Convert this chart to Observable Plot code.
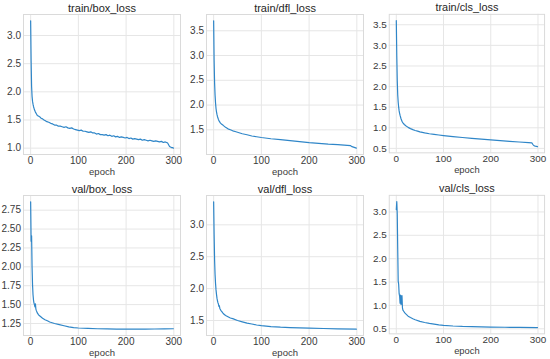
<!DOCTYPE html>
<html>
<head>
<meta charset="utf-8">
<script src="https://cdn.jsdelivr.net/npm/d3@7"></script>
<script src="https://cdn.jsdelivr.net/npm/@observablehq/plot@0.6"></script>
<style>
  html, body { margin: 0; padding: 0; background: #ffffff; }
  #chart { position: relative; width: 550px; height: 359px; overflow: hidden; background: #ffffff; }
  #chart > .panel { position: absolute; }
  #chart svg { overflow: visible; }
</style>
</head>
<body>
<div id="chart"></div>
<script>
// ---------- data ----------
const titles = ["train/box_loss", "train/dfl_loss", "train/cls_loss", "val/box_loss", "val/dfl_loss", "val/cls_loss"];
const xTicks = [0, 100, 200, 300];
const xTickLabels = ["0", "100", "200", "300"];
const xLabel = "epoch";

const trainBoxEpoch = [0,1,2,3,4,5,6,7,8,10,12,14,16,18,20,22,25,28,30,34,38,42,46,50,54,58,62,66,70,74,78,82,86,90,94,98,102,106,110,114,118,122,126,130,134,138,142,146,150,154,158,162,166,170,174,178,182,186,190,194,198,202,206,210,214,218,222,226,230,234,238,242,246,250,254,258,262,266,270,274,278,282,285,287,289,291,293,295,297,299];
const trainBoxLoss  = [3.26,2.55,2.10,1.92,1.83,1.78,1.74,1.71,1.68,1.64,1.61,1.58,1.57,1.56,1.55,1.53,1.52,1.50,1.49,1.47,1.46,1.44,1.43,1.41,1.41,1.39,1.39,1.38,1.37,1.38,1.36,1.35,1.36,1.34,1.33,1.32,1.31,1.32,1.30,1.30,1.29,1.28,1.29,1.27,1.27,1.25,1.26,1.24,1.24,1.23,1.24,1.22,1.23,1.21,1.22,1.20,1.21,1.19,1.20,1.19,1.18,1.19,1.17,1.18,1.16,1.17,1.16,1.15,1.16,1.14,1.15,1.14,1.13,1.14,1.13,1.12,1.13,1.12,1.11,1.12,1.10,1.11,1.10,1.09,1.06,1.03,1.02,1.01,1.01,1.00];

const trainDflEpoch = [0,1,2,3,4,5,6,7,8,10,12,14,17,20,25,30,35,40,45,50,60,70,80,90,100,120,140,160,180,200,220,240,260,280,287,290,293,296,299];
const trainDflLoss  = [3.70,2.90,2.45,2.20,2.04,1.93,1.86,1.81,1.77,1.71,1.67,1.64,1.61,1.59,1.55,1.52,1.50,1.48,1.465,1.45,1.42,1.40,1.375,1.36,1.345,1.32,1.30,1.28,1.26,1.24,1.225,1.21,1.20,1.185,1.18,1.16,1.15,1.14,1.13];

const trainClsEpoch = [0,1,2,3,4,5,6,7,8,10,12,14,17,20,25,30,35,40,45,50,60,70,80,90,100,120,140,160,180,200,220,240,260,280,287,289,291,294,299];
const trainClsLoss  = [3.60,2.75,2.15,1.80,1.62,1.50,1.41,1.35,1.30,1.22,1.16,1.12,1.08,1.05,1.01,0.98,0.955,0.935,0.92,0.90,0.875,0.855,0.84,0.825,0.81,0.785,0.765,0.745,0.725,0.705,0.69,0.67,0.655,0.64,0.635,0.60,0.57,0.555,0.545];

const valBoxEpoch = [0,1,2,3,4,5,6,7,8,9,10,11,12,14,16,18,20,25,30,35,40,50,60,70,80,90,100,120,140,160,180,200,220,240,260,280,299];
const valBoxLoss  = [2.86,2.34,2.41,2.00,1.76,1.63,1.56,1.52,1.50,1.47,1.51,1.44,1.42,1.39,1.37,1.355,1.345,1.32,1.30,1.285,1.27,1.25,1.235,1.22,1.205,1.195,1.19,1.185,1.18,1.178,1.176,1.175,1.175,1.176,1.177,1.178,1.18];

const valDflEpoch = [0,1,2,3,4,5,6,7,8,9,10,11,12,13,15,18,20,25,30,35,40,50,60,70,80,90,100,120,140,160,180,200,230,260,299];
const valDflLoss  = [3.36,2.85,2.45,2.22,2.08,1.98,1.91,1.85,1.81,1.78,1.76,1.72,1.73,1.69,1.66,1.63,1.61,1.58,1.56,1.54,1.53,1.50,1.48,1.46,1.445,1.43,1.42,1.405,1.395,1.39,1.385,1.38,1.375,1.37,1.365];

const valClsEpoch = [0,1,2,3,4,5,6,7,8,9,10,11,12,13,14,16,18,20,25,30,35,40,50,60,70,80,90,100,120,140,160,180,200,230,260,299];
const valClsLoss  = [3.05,3.22,2.95,2.20,1.52,1.45,1.25,1.20,1.05,1.22,1.02,1.20,1.21,0.95,0.90,0.87,0.84,0.82,0.77,0.74,0.715,0.695,0.66,0.635,0.615,0.60,0.585,0.575,0.56,0.55,0.545,0.54,0.537,0.533,0.53,0.527];

const yTicksList = [
  [1.0, 1.5, 2.0, 2.5, 3.0],
  [1.5, 2.0, 2.5, 3.0, 3.5],
  [0.5, 1.0, 1.5, 2.0, 2.5, 3.0, 3.5],
  [1.25, 1.5, 1.75, 2.0, 2.25, 2.5, 2.75],
  [1.5, 2.0, 2.5, 3.0],
  [0.5, 1.0, 1.5, 2.0, 2.5, 3.0]
];
const yTickLabelsList = [
  ["1.0", "1.5", "2.0", "2.5", "3.0"],
  ["1.5", "2.0", "2.5", "3.0", "3.5"],
  ["0.5", "1.0", "1.5", "2.0", "2.5", "3.0", "3.5"],
  ["1.25", "1.50", "1.75", "2.00", "2.25", "2.50", "2.75"],
  ["1.5", "2.0", "2.5", "3.0"],
  ["0.5", "1.0", "1.5", "2.0", "2.5", "3.0"]
];

// ---------- layout ----------
const series = [
  [trainBoxEpoch, trainBoxLoss],
  [trainDflEpoch, trainDflLoss],
  [trainClsEpoch, trainClsLoss],
  [valBoxEpoch, valBoxLoss],
  [valDflEpoch, valDflLoss],
  [valClsEpoch, valClsLoss]
];
const colLeft = [23, 206, 389];   // frame left edges
const rowTop = [14, 195];         // frame top edges
const frameW = 157, frameH = 140;
const mL = 23, mR = 6, mT = 14, mB = 26;
const font = "'Liberation Sans', Arial, 'DejaVu Sans', sans-serif";
const lineColor = "#2f86c8";
const gridColor = "#e6e6e6";
const textColor = "#3a3a3a";

function pad(ext) {
  const r = ext[1] - ext[0];
  return [ext[0] - 0.05 * r, ext[1] + 0.05 * r];
}

const chart = document.getElementById("chart");
series.forEach(([ex, ey], k) => {
  const col = k % 3, row = Math.floor(k / 3);
  const data = ex.map((e, i) => ({epoch: e, loss: ey[i]}));
  const yTicks = yTicksList[k];
  const yLabelMap = new Map(yTicks.map((t, i) => [t, yTickLabelsList[k][i]]));
  const xLabelMap = new Map(xTicks.map((t, i) => [t, xTickLabels[i]]));
  const svg = Plot.plot({
    width: frameW + mL + mR,
    height: frameH + mT + mB,
    marginLeft: mL, marginRight: mR, marginTop: mT, marginBottom: mB,
    style: {fontFamily: font, fontSize: "10px", color: textColor, background: "transparent", overflow: "visible"},
    x: {domain: pad(d3.extent(ex)), label: null},
    y: {domain: pad(d3.extent(ey)), label: null},
    marks: [
      Plot.gridY(yTicks, {stroke: gridColor, strokeOpacity: 1, strokeWidth: 1}),
      Plot.gridX(xTicks, {stroke: gridColor, strokeOpacity: 1, strokeWidth: 1}),
      Plot.frame({stroke: "#dadada", strokeWidth: 1}),
      Plot.axisX(xTicks, {tickSize: 0, tickPadding: 2.5, label: null, tickFormat: d => xLabelMap.get(d), fill: textColor, fontSize: 10}),
      Plot.axisY(yTicks, {tickSize: 0, tickPadding: 2.5, label: null, tickFormat: d => yLabelMap.get(d), fill: textColor, fontSize: 10}),
      Plot.line(data, {x: "epoch", y: "loss", stroke: lineColor, strokeWidth: 1.2, curve: "linear"}),
      Plot.text([titles[k]], {text: d => d, frameAnchor: "top", dy: -6.5, lineAnchor: "middle", fontSize: 11, fill: "#262626"}),
      Plot.text([xLabel], {text: d => d, frameAnchor: "bottom", dy: 17.5, lineAnchor: "middle", fontSize: 9.5, fill: textColor})
    ]
  });
  const wrap = document.createElement("div");
  wrap.className = "panel";
  wrap.style.left = (colLeft[col] - mL) + "px";
  wrap.style.top = (rowTop[row] - mT) + "px";
  wrap.appendChild(svg);
  chart.appendChild(wrap);
});
</script>
</body>
</html>
